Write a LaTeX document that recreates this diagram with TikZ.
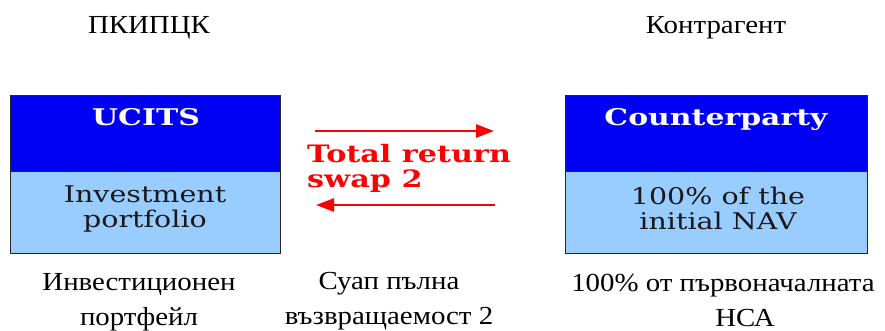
\documentclass[tikz,border=0pt]{standalone}
\usepackage{fontspec}
\setmainfont{Liberation Serif}[FakeStretch=1.11]
\newfontfamily\boxfont{DejaVu Serif}[FakeStretch=1.24]
\newfontfamily\boxbold{DejaVu Serif}[FakeStretch=1.3]
\newfontfamily\swapbold{DejaVu Serif}[FakeStretch=1.26]
\usetikzlibrary{arrows.meta}
\definecolor{hdblue}{HTML}{0000F4}
\definecolor{bdblue}{HTML}{99CCFF}
\definecolor{swred}{HTML}{FF0000}
\begin{document}
\begin{tikzpicture}[x=1pt,y=-1pt,
  lbl/.style={font=\fontsize{26}{35}\selectfont, align=center, inner sep=0pt},
  headbox/.style={draw=black!85, fill=hdblue, line width=1.2pt, anchor=north west, inner sep=0pt},
  bodybox/.style={draw=black!85, fill=bdblue, line width=1.2pt, anchor=north west, inner sep=0pt},
  headtxt/.style={font=\boxbold\bfseries\fontsize{23}{25}\selectfont, text=white, inner sep=0pt, anchor=base},
  bodytxt/.style={font=\boxfont\fontsize{23}{25}\selectfont, text=black!90, align=center, inner sep=0pt},
  swaptxt/.style={font=\swapbold\bfseries\fontsize{24}{25}\selectfont, text=swred, align=left, inner sep=0pt, anchor=west},
  swaparrow/.style={draw=swred, line width=2.6pt, -{Triangle[length=18pt,width=13pt]}}
]
\useasboundingbox (0,0) rectangle (885,331);
% top labels
\node[lbl] (tl) at (149,28) {ПКИПЦК};
\node[lbl] (tr) at (716,28) {Контрагент};
% left box
\node[headbox, minimum width=270, minimum height=76] (lh) at (10,95) {};
\node[bodybox, minimum width=270, minimum height=82] (lb) at (10,171) {};
\node[headtxt] (lht) at (146,126) {UCITS};
\node[bodytxt] (lbt) at (145,209.5) {Investment\\portfolio};
% right box
\node[headbox, minimum width=302, minimum height=76] (rh) at (565,95) {};
\node[bodybox, minimum width=302, minimum height=82] (rb) at (565,171) {};
\node[headtxt] (rht) at (716,126) {Counterparty};
\node[bodytxt] (rbt) at (718,208) {100\% of the\\initial NAV};
% swap
\coordinate (a1s) at (315,131);
\coordinate (a1e) at (494,131);
\coordinate (a2s) at (495,205);
\coordinate (a2e) at (316,205);
\draw[swaparrow] (a1s) -- (a1e);
\draw[swaparrow] (a2s) -- (a2e);
\node[swaptxt] (sw) at (307,168) {Total return\\swap 2};
% bottom labels
\node[lbl] (bl) at (139,302) {Инвестиционен\\портфейл};
\node[lbl] (bm) at (389,301.5) {Суап пълна\\възвращаемост 2};
\node[lbl, anchor=base] (br1) at (723,291) {100\% от първоначалната};
\node[lbl, anchor=base] (br2) at (745,326) {НСА};
\end{tikzpicture}
\end{document}
